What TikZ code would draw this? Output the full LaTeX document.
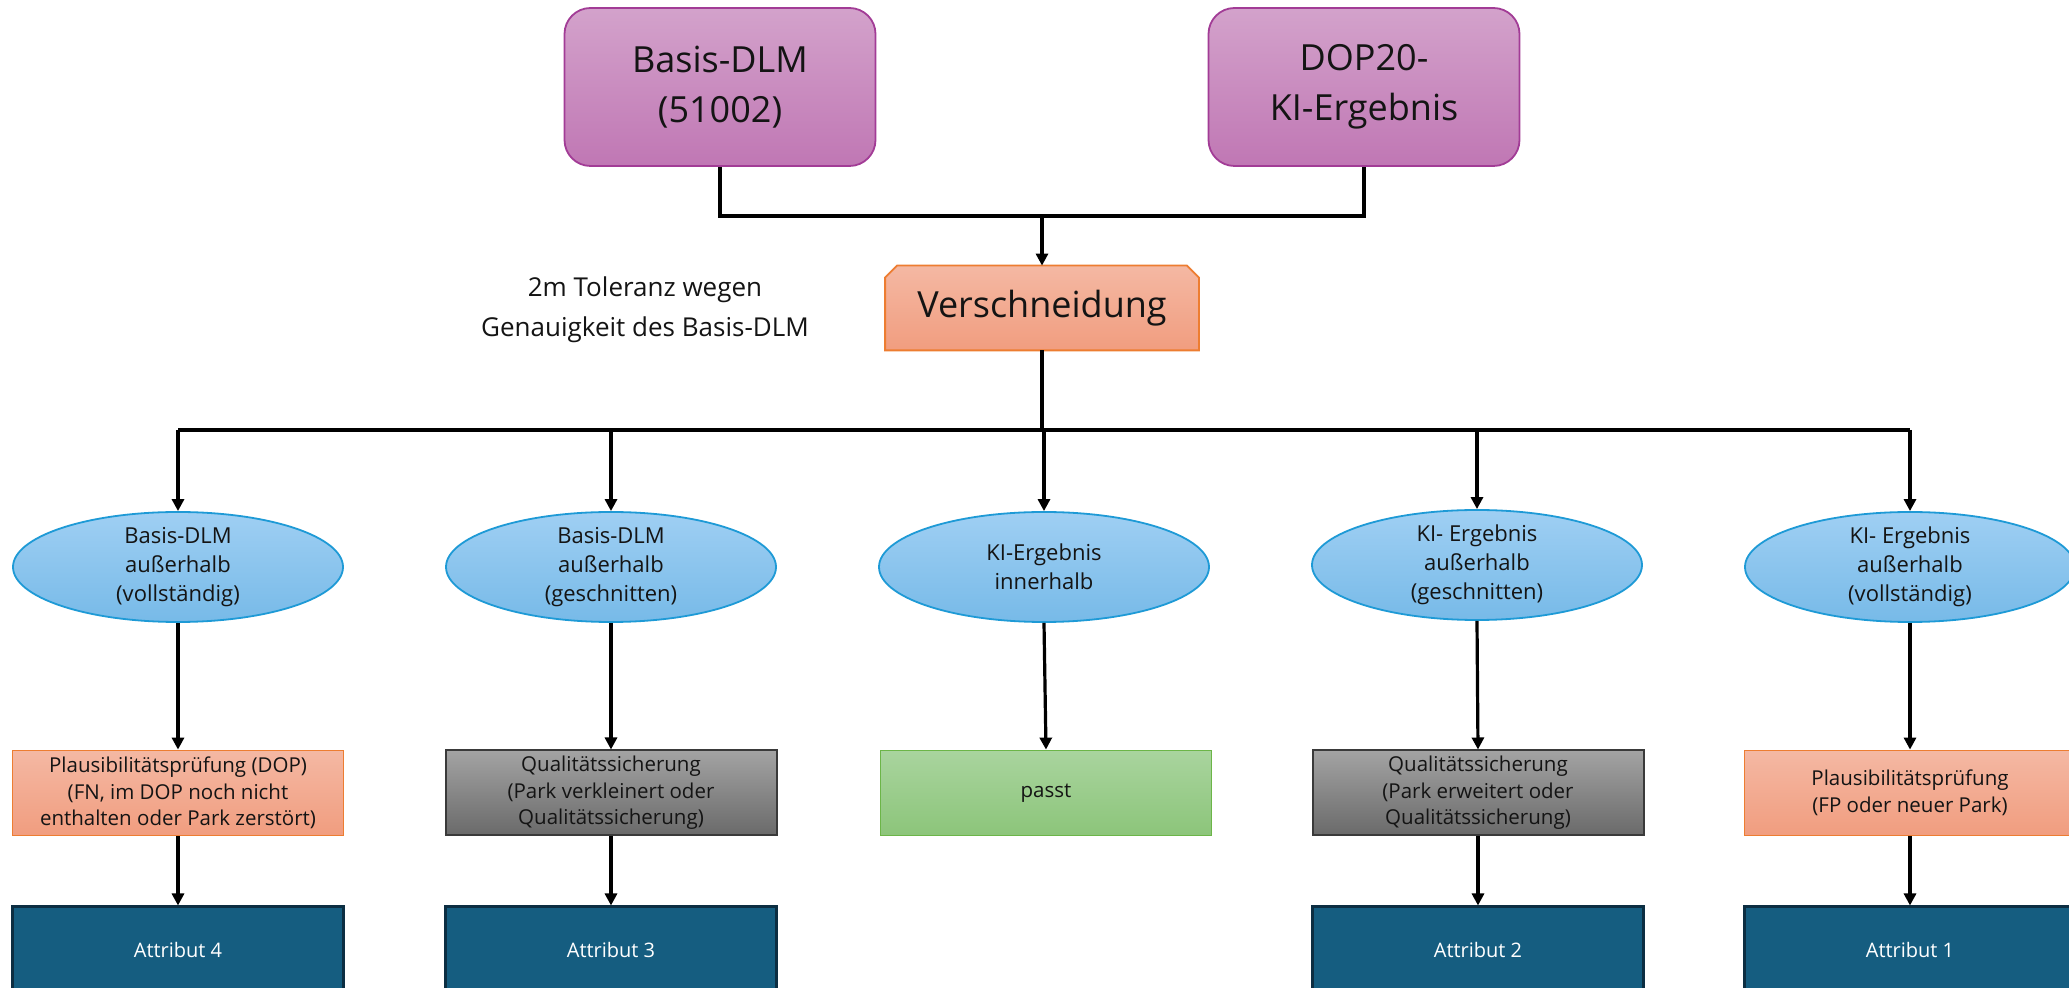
\documentclass[tikz,border=0pt]{standalone}
\usepackage{fontspec}
\setmainfont{Open Sans}
\usetikzlibrary{arrows.meta,shapes.geometric,backgrounds}
\definecolor{txt}{HTML}{141414}
\definecolor{purtop}{HTML}{D3A2CB}
\definecolor{purbot}{HTML}{C077B4}
\definecolor{purbd}{HTML}{A23C96}
\definecolor{orgtop}{HTML}{F4B8A3}
\definecolor{orgbot}{HTML}{F19D7F}
\definecolor{orgbd}{HTML}{ED7D31}
\definecolor{elltop}{HTML}{9FCFF3}
\definecolor{ellbot}{HTML}{77BAE8}
\definecolor{ellbd}{HTML}{1E9AD6}
\definecolor{grntop}{HTML}{A9D49E}
\definecolor{grnbot}{HTML}{8CC57A}
\definecolor{grnbd}{HTML}{6CB548}
\definecolor{grytop}{HTML}{A3A3A3}
\definecolor{grybot}{HTML}{6A6A6A}
\definecolor{grybd}{HTML}{3A3A3A}
\definecolor{attfill}{HTML}{155D80}
\definecolor{attbd}{HTML}{0C2E42}
\begin{document}
\begin{tikzpicture}[x=0.5pt,y=-0.5pt,
  conn/.style={line width=1.6pt, draw=black},
  arr/.style={conn, -{Triangle[length=6pt,width=6pt]}},
  topbox/.style={rectangle, rounded corners=13pt, draw=purbd, line width=0.9pt,
    top color=purtop, bottom color=purbot, minimum width=155.5pt, minimum height=79pt,
    inner sep=0pt, align=center, text=txt, font=\fontsize{18}{25}\selectfont},
  ell/.style={ellipse, draw=ellbd, line width=0.9pt, top color=elltop, bottom color=ellbot,
    minimum width=165pt, minimum height=55pt, inner sep=0pt},
  elltext/.style={align=center, text=txt, inner sep=0pt, font=\fontsize{11}{14.5}\selectfont},
  boxbase/.style={rectangle, minimum width=165.5pt, minimum height=42.5pt, inner sep=0pt,
    align=center, text=txt, font=\fontsize{10.25}{13.3}\selectfont},
  orgbox/.style={boxbase, draw=orgbd, line width=0.9pt, top color=orgtop, bottom color=orgbot},
  grybox/.style={boxbase, draw=grybd, line width=1pt, top color=grytop, bottom color=grybot},
  grnbox/.style={boxbase, draw=grnbd, line width=0.9pt, top color=grntop, bottom color=grnbot},
  attbox/.style={boxbase, minimum height=43pt, draw=attbd, line width=1.5pt, fill=attfill, text=white,
    font=\fontsize{10}{13}\selectfont}
]
\useasboundingbox (0,0) rectangle (2069,988);
\clip (0,0) rectangle (2069,988);

% top boxes
\node[topbox] (dlm) at (720,87) {Basis-DLM\\(51002)};
\node[topbox] (dop) at (1364,87) {DOP20-\\KI-Ergebnis};

% Verschneidung
\node[minimum width=156.5pt, minimum height=42pt, inner sep=0pt, text=txt,
  font=\fontsize{18}{22}\selectfont] (ver) at (1042,308) {Verschneidung};
\begin{scope}[on background layer]
\fill[white] (0,0) rectangle (2069,988);
\path[draw=orgbd, line width=0.9pt, top color=orgtop, bottom color=orgbot]
  (ver.south west) -- ([yshift=-6pt]ver.north west) -- ([xshift=6pt]ver.north west)
  -- ([xshift=-6pt]ver.north east) -- ([yshift=-6pt]ver.north east) -- (ver.south east) -- cycle;
\end{scope}

% note
\node[align=center, text=txt, font=\fontsize{13}{20}\selectfont] (note) at (645,310)
  {2m Toleranz wegen\\Genauigkeit des Basis-DLM};

% ellipses
\node[ell] (e1) at (178,567) {};
\node[ell] (e2) at (611,567) {};
\node[ell] (e3) at (1044,567) {};
\node[ell] (e4) at (1477,565) {};
\node[ell] (e5) at (1910,567) {};
\node[elltext] (e1t) at (e1) {Basis-DLM\\außerhalb\\(vollständig)};
\node[elltext] (e2t) at (e2) {Basis-DLM\\außerhalb\\(geschnitten)};
\node[elltext] (e3t) at (e3) {KI-Ergebnis\\innerhalb};
\node[elltext] (e4t) at (e4) {KI- Ergebnis\\außerhalb\\(geschnitten)};
\node[elltext] (e5t) at (e5) {KI- Ergebnis\\außerhalb\\(vollständig)};

% middle boxes
\node[orgbox] (b1) at (178,793) {Plausibilitätsprüfung (DOP)\\(FN, im DOP noch nicht\\enthalten oder Park zerstört)};
\node[grybox] (b2) at (611,793) {Qualitätssicherung\\(Park verkleinert oder\\Qualitätssicherung)};
\node[grnbox] (b3) at (1046,793) {passt};
\node[grybox] (b4) at (1478,793) {Qualitätssicherung\\(Park erweitert oder\\Qualitätssicherung)};
\node[orgbox] (b5) at (1910,793) {Plausibilitätsprüfung\\(FP oder neuer Park)};

% attribute boxes
\node[attbox] (a4) at (178,950) {Attribut 4};
\node[attbox] (a3) at (611,950) {Attribut 3};
\node[attbox] (a2) at (1478,950) {Attribut 2};
\node[attbox] (a1) at (1910,950) {Attribut 1};

% connectors top
\coordinate (jc) at (1042,216);
\draw[conn] (dlm.south) |- (jc) -| (dop.south);
\draw[arr] (jc) -- (ver.north);

% bus
\coordinate (bus) at (1042,430);
\draw[conn] (ver.south) -- (bus);
\draw[conn] (e1.north |- bus) -- (e5.north |- bus);
\foreach \e in {e1,e2,e3,e4,e5} {
  \draw[arr] (\e.north |- bus) -- (\e.north);
}

% vertical arrows
\draw[arr] (e1.south) -- (b1.north);
\draw[arr] (e2.south) -- (b2.north);
\draw[arr] (e3.south) -- (b3.north);
\draw[arr] (e4.south) -- (b4.north);
\draw[arr] (e5.south) -- (b5.north);
\draw[arr] (b1.south) -- (a4.north);
\draw[arr] (b2.south) -- (a3.north);
\draw[arr] (b4.south) -- (a2.north);
\draw[arr] (b5.south) -- (a1.north);
\end{tikzpicture}
\end{document}
